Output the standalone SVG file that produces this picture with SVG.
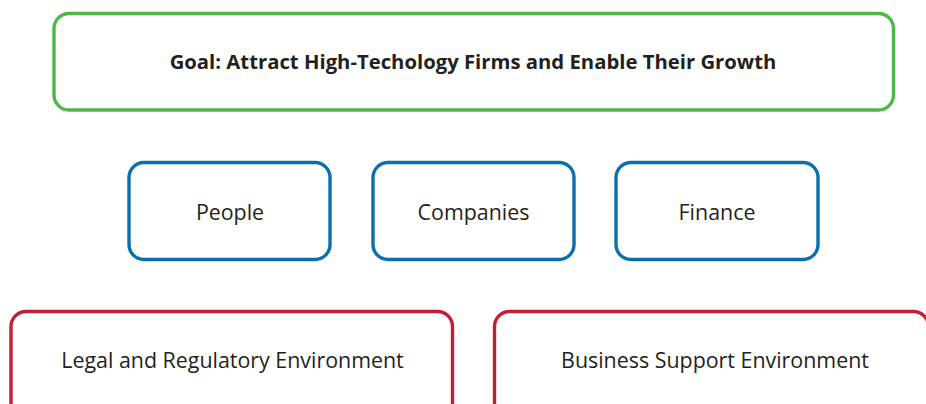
<svg xmlns="http://www.w3.org/2000/svg" width="926" height="404" viewBox="0 0 926 404">
  <style>
    .box { fill: #ffffff; stroke-width: 3.4; }
    .goal { stroke: #4cb848; }
    .pillar { stroke: #0b6fae; }
    .env { stroke: #c21f32; }
    text { font-family: "Open Sans", "Noto Sans", sans-serif; font-size: 21.4px; fill: #231f20; text-anchor: middle; }
    .bold { font-weight: bold; font-size: 20.3px; }
  </style>
  <rect width="926" height="404" fill="#ffffff"/>
  <g id="goal">
    <rect class="box goal" x="54" y="13.5" width="839.5" height="96.5" rx="15"/>
    <text class="bold" x="473" y="69">Goal: Attract High-Techology Firms and Enable Their Growth</text>
  </g>
  <g id="people">
    <rect class="box pillar" x="129" y="162.5" width="201" height="97" rx="15"/>
    <text x="230" y="220">People</text>
  </g>
  <g id="companies">
    <rect class="box pillar" x="373" y="162.5" width="201" height="97" rx="15"/>
    <text x="473.5" y="220">Companies</text>
  </g>
  <g id="finance">
    <rect class="box pillar" x="616" y="162.5" width="202" height="97" rx="15"/>
    <text x="717" y="220">Finance</text>
  </g>
  <g id="legal">
    <rect class="box env" x="11" y="311.5" width="441.5" height="110" rx="15"/>
    <text x="232.5" y="368">Legal and Regulatory Environment</text>
  </g>
  <g id="business">
    <rect class="box env" x="494.5" y="311.5" width="434" height="110" rx="15"/>
    <text x="715" y="368">Business Support Environment</text>
  </g>
  <g id="connectors"></g>
</svg>
